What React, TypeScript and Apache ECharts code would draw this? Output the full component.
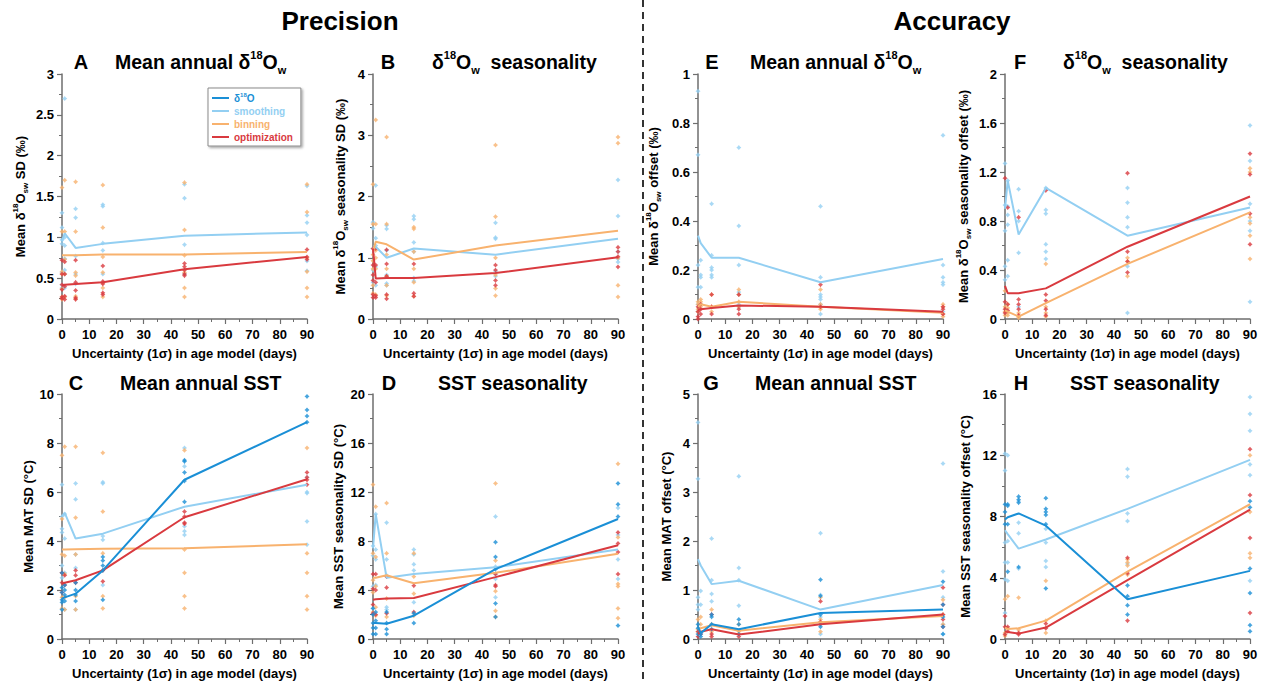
import React, { useEffect, useRef } from "react";
import * as echarts from "echarts";

// ---------- DATA ----------
const X_LEVELS = [0, 1, 5, 15, 45, 90];
const X_TICKS = [0, 10, 20, 30, 40, 50, 60, 70, 80, 90];

// Panel A: Precision, mean annual d18Ow (SD, permil)
const A_SMOOTH_MEAN = [0.95, 1.05, 0.87, 0.92, 1.02, 1.06];
const A_BIN_MEAN = [0.78, 0.78, 0.78, 0.79, 0.79, 0.82];
const A_OPT_MEAN = [0.41, 0.42, 0.43, 0.45, 0.61, 0.76];
const A_SMOOTH_PTS = [[1.3, 1.12, 0.97, 0.92, 0.57, 0.42, 0.38], [2.7, 1.0, 0.9, 0.74, 0.6, 0.55, 0.38], [1.35, 1.24, 0.77, 0.55, 0.43], [1.4, 1.38, 0.93, 0.84, 0.55], [1.65, 1.48, 0.91, 0.55], [1.63, 1.27, 1.18, 1.03, 0.71, 0.59]];
const A_BIN_PTS = [[1.61, 1.07, 0.58, 0.55, 0.37, 0.27, 0.24], [1.7, 1.07, 0.73, 0.55, 0.27], [1.68, 1.07, 0.57, 0.53, 0.28, 0.25], [1.64, 1.12, 0.76, 0.57, 0.44, 0.38, 0.27], [1.67, 1.09, 0.78, 0.57, 0.38, 0.27], [1.65, 1.31, 0.75, 0.58, 0.38, 0.27]];
const A_OPT_PTS = [[0.72, 0.55, 0.42, 0.36, 0.27, 0.25], [0.7, 0.55, 0.4, 0.28, 0.24], [0.72, 0.45, 0.35, 0.26, 0.24], [0.65, 0.46, 0.43, 0.32, 0.3], [0.68, 0.64, 0.6, 0.55, 0.53], [0.85, 0.76, 0.73]];

// Panel B: Precision, d18Ow seasonality
const B_SMOOTH_MEAN = [1.15, 1.18, 1.0, 1.15, 1.05, 1.31];
const B_BIN_MEAN = [1.1, 1.26, 1.22, 0.97, 1.2, 1.44];
const B_OPT_MEAN = [1.15, 0.66, 0.67, 0.67, 0.75, 1.01];
const B_SMOOTH_PTS = [[1.58, 1.48, 1.15, 0.8, 0.6], [2.18, 1.32, 1.2, 0.85, 0.55], [1.53, 1.47, 1.12, 0.72, 0.58, 0.55], [1.68, 1.63, 1.25, 1.1, 0.67, 0.62], [1.57, 1.33, 1.31, 0.78, 0.7], [2.27, 1.68, 1.1, 0.98, 0.93]];
const B_BIN_PTS = [[2.2, 1.55, 1.05, 0.95, 0.82, 0.55, 0.42], [3.25, 1.55, 1.12, 1.0, 0.82, 0.4], [2.97, 1.55, 1.05, 0.82, 0.7, 0.55, 0.38], [1.5, 1.47, 1.1, 0.82, 0.6, 0.37], [2.84, 1.67, 1.0, 0.72, 0.5, 0.38], [2.97, 2.87, 1.0, 0.55, 0.36]];
const B_OPT_PTS = [[1.15, 0.88, 0.72, 0.63, 0.4, 0.35], [1.15, 0.88, 0.6, 0.38, 0.35], [1.13, 0.9, 0.7, 0.4, 0.33], [0.9, 0.42, 0.37], [0.88, 0.8, 0.63, 0.55], [1.17, 1.1, 1.02, 0.85]];

// Panel C: Precision, mean annual SST
const C_D18O_MEAN = [1.65, 1.7, 1.85, 2.8, 6.5, 8.85];
const C_SMOOTH_MEAN = [5.0, 5.15, 4.1, 4.3, 5.4, 6.3];
const C_BIN_MEAN = [3.65, 3.65, 3.66, 3.68, 3.7, 3.87];
const C_OPT_MEAN = [2.25, 2.3, 2.4, 2.8, 4.97, 6.52];
const C_D18O_PTS = [[2.7, 2.1, 1.9, 1.6, 1.5, 1.2], [2.2, 2.0, 1.8, 1.55], [2.3, 2.0, 1.8, 1.55], [3.35, 3.2, 3.0, 2.8, 1.6], [7.3, 7.25, 6.8, 6.45, 5.6], [9.9, 9.35, 9.1, 8.85]];
const C_SMOOTH_PTS = [[6.3, 5.0, 4.5, 4.35, 3.0, 2.5], [5.1, 4.1, 2.7, 1.2], [6.35, 5.7, 3.45, 2.9, 1.2], [6.4, 6.35, 4.2, 4.05, 2.2], [7.8, 7.05, 4.6, 4.4, 4.25], [6.6, 6.0, 5.95, 4.8, 3.85]];
const C_BIN_PTS = [[7.5, 4.9, 3.45, 2.7, 1.7, 1.25], [7.85, 3.4, 2.65, 1.7, 1.2], [7.85, 4.95, 3.45, 1.75, 1.2], [7.6, 5.2, 3.5, 1.75, 1.25], [7.7, 3.65, 2.7, 1.75, 1.25], [7.8, 3.5, 2.7, 1.75, 1.2]];
const C_OPT_PTS = [[2.7, 2.3, 1.9], [2.6, 2.2], [2.8, 2.6, 2.3], [2.8, 2.35], [5.2, 5.0, 4.75, 4.7], [6.8, 6.6, 6.5, 6.3]];

// Panel D: Precision, SST seasonality
const D_D18O_MEAN = [1.3, 1.3, 1.25, 1.9, 5.7, 9.8];
const D_SMOOTH_MEAN = [7.4, 10.2, 5.0, 5.3, 5.85, 7.3];
const D_BIN_MEAN = [5.0, 5.0, 5.2, 4.55, 5.4, 6.95];
const D_OPT_MEAN = [3.2, 3.25, 3.3, 3.35, 5.05, 7.65];
const D_D18O_PTS = [[2.5, 2.0, 1.3, 0.9, 0.4], [2.2, 1.5, 0.9, 0.4], [2.2, 1.3, 0.8, 0.4], [2.1, 1.3], [7.9, 6.7, 5.7, 2.9, 1.8], [12.7, 11.0, 10.0, 1.1]];
const D_SMOOTH_PTS = [[7.6, 6.8, 4.3, 2.5], [10.2, 7.3, 6.5, 4.4], [9.5, 6.5, 5.2, 2.6, 2.4], [7.3, 6.9, 6.1, 5.6, 3.0], [10.0, 5.9, 5.3, 4.9, 3.4], [10.7, 8.5, 6.5, 4.9]];
const D_BIN_PTS = [[12.6, 7.0, 4.8, 3.8, 2.2], [10.8, 6.7, 4.3, 2.6, 1.9], [11.1, 7.0, 5.1, 3.3, 1.8], [7.0, 5.1, 3.7, 1.9], [12.7, 6.4, 3.9, 2.3, 1.8], [14.3, 8.3, 4.5, 4.3, 2.5, 1.7]];
const D_OPT_PTS = [[5.3, 4.1, 2.8, 2.1], [5.3, 4.0, 2.0], [5.1, 4.2, 2.1], [4.35, 2.2], [5.3, 4.4, 4.3], [8.7, 7.8, 7.1, 5.3]];

// Panel E: Accuracy, mean annual d18Ow (offset)
const E_SMOOTH_MEAN = [0.34, 0.31, 0.25, 0.25, 0.15, 0.245];
const E_BIN_MEAN = [0.05, 0.06, 0.05, 0.07, 0.05, 0.025];
const E_OPT_MEAN = [0.035, 0.04, 0.045, 0.055, 0.05, 0.03];
const E_SMOOTH_PTS = [[0.93, 0.67, 0.22, 0.13, 0.06, 0.03], [0.24, 0.18, 0.17, 0.13, 0.06], [0.47, 0.26, 0.21, 0.2, 0.18, 0.17], [0.7, 0.38, 0.22, 0.11, 0.1, 0.06, 0.05], [0.46, 0.17, 0.1, 0.09, 0.08, 0.06, 0.02], [0.75, 0.22, 0.17, 0.15, 0.14, 0.03]];
const E_BIN_PTS = [[0.07, 0.06, 0.04, 0.03], [0.08, 0.07, 0.05], [0.1, 0.05, 0.03], [0.12, 0.1, 0.07, 0.05], [0.12, 0.06, 0.04], [0.06, 0.05, 0.02, 0.01]];
const E_OPT_PTS = [[0.05, 0.03, 0.01, 0.0], [0.06, 0.04, 0.02], [0.1, 0.05, 0.02], [0.1, 0.04, 0.02], [0.14, 0.05], [0.05, 0.04, 0.02]];

// Panel F: Accuracy, d18Ow seasonality (offset)
const F_SMOOTH_MEAN = [0.9, 1.13, 0.69, 1.07, 0.68, 0.91];
const F_BIN_MEAN = [0.07, 0.06, 0.02, 0.13, 0.45, 0.87];
const F_OPT_MEAN = [0.27, 0.21, 0.21, 0.25, 0.59, 1.0];
const F_SMOOTH_PTS = [[1.27, 0.93, 0.72, 0.43, 0.32], [1.13, 0.92, 0.85, 0.77, 0.48, 0.35], [1.06, 0.88, 0.8, 0.54, 0.1], [1.07, 0.89, 0.86, 0.61, 0.55, 0.49], [1.07, 0.95, 0.83, 0.75, 0.43, 0.05], [1.58, 1.29, 0.94, 0.8, 0.72, 0.14]];
const F_BIN_PTS = [[0.23, 0.1, 0.06, 0.03], [0.12, 0.09, 0.05, 0.03], [0.05, 0.02, 0.01], [0.45, 0.1, 0.05, 0.02], [0.5, 0.47, 0.35], [1.23, 1.2, 0.83, 0.78, 0.68, 0.49]];
const F_OPT_PTS = [[1.15, 0.14, 0.08, 0.05], [0.91, 0.12, 0.07], [0.83, 0.16, 0.12, 0.08, 0.03], [1.05, 0.2, 0.15, 0.08, 0.03], [1.19, 0.55, 0.47, 0.38], [1.35, 1.18, 0.86, 0.61]];

// Panel G: Accuracy, mean annual SST (offset)
const G_D18O_MEAN = [0.25, 0.12, 0.3, 0.2, 0.53, 0.6];
const G_SMOOTH_MEAN = [1.63, 1.5, 1.12, 1.19, 0.6, 1.1];
const G_BIN_MEAN = [0.2, 0.22, 0.28, 0.17, 0.34, 0.47];
const G_OPT_MEAN = [0.1, 0.15, 0.2, 0.09, 0.3, 0.5];
const G_D18O_PTS = [[0.3, 0.22, 0.1], [0.1, 0.05], [0.5, 0.45, 0.3, 0.2], [0.4, 0.3, 0.1], [1.21, 0.88, 0.5, 0.3, 0.25], [1.17, 0.7, 0.45, 0.25, 0.1]];
const G_SMOOTH_PTS = [[4.42, 3.27, 0.85, 0.7, 0.6], [0.98, 0.7], [2.05, 1.2, 0.92, 0.77], [3.32, 1.45, 1.2, 0.68], [2.16, 0.9, 0.45, 0.1], [3.58, 1.38, 0.85, 0.3, 0.1]];
const G_BIN_PTS = [[0.4, 0.2, 0.15], [0.45, 0.3], [0.6, 0.3, 0.15], [0.3, 0.15], [0.85, 0.4, 0.15], [0.8, 0.5, 0.3]];
const G_OPT_PTS = [[0.15, 0.05], [0.1], [0.5, 0.1, 0.05], [0.05], [0.77, 0.35], [1.05, 0.7, 0.5, 0.4, 0.25]];

// Panel H: Accuracy, SST seasonality (offset)
const H_D18O_MEAN = [7.8, 7.95, 8.2, 7.4, 2.6, 4.45];
const H_SMOOTH_MEAN = [7.1, 6.85, 5.9, 6.5, 8.5, 11.7];
const H_BIN_MEAN = [0.75, 0.65, 0.7, 1.2, 4.4, 8.8];
const H_OPT_MEAN = [0.5, 0.45, 0.35, 0.75, 3.85, 8.45];
const H_D18O_PTS = [[8.8, 8.3, 7.5], [8.8, 8.7, 7.5, 4.4], [9.3, 9.1, 8.9, 4.7], [9.2, 8.5, 8.3, 8.1, 7.5, 3.3], [3.5, 2.8, 2.2, 1.6], [9.0, 8.6, 4.6, 3.0, 0.9, 0.5]];
const H_SMOOTH_PTS = [[12.1, 11.0, 6.3, 5.0, 3.9, 1.7], [12.0, 6.4, 5.0, 3.8], [9.0, 7.6, 6.9, 4.6], [7.2, 6.3, 5.1, 4.7], [11.1, 10.6, 8.2, 7.7, 4.9], [15.8, 14.7, 13.6, 11.4, 10.7, 3.8]];
const H_BIN_PTS = [[2.6, 0.4, 0.2], [2.8, 0.7], [2.7, 0.6], [3.8, 1.2, 0.4], [5.2, 5.0, 4.8, 4.2], [12.0, 8.3, 5.6, 5.3]];
const H_OPT_PTS = [[1.5, 0.8, 0.3], [0.8, 0.5], [0.4, 0.3], [1.0, 0.7], [5.3, 4.3, 1.2], [12.4, 9.4, 6.6, 1.7]];

// ---------- STYLE ----------
const FONT = "'Liberation Sans', Arial, Helvetica, sans-serif";
const COLORS: Record<string, string> = {
  "δ18O": "#1a8fd6",
  smoothing: "#93cff2",
  binning: "#f8b26e",
  optimization: "#d93a3f",
};
const STAR = "path://M0,-10 L4.5,-4.5 L10,0 L4.5,4.5 L0,10 L-4.5,4.5 L-10,0 L-4.5,-4.5 Z";
const AXIS_COLOR = "#6e6e6e";

type Method = "δ18O" | "smoothing" | "binning" | "optimization";
type SeriesDef = [Method, number[], number[][]];

const PANELS: {
  letter: string; left: number; top: number; yMax: number; yInt: number; nameGap: number;
  yName: string; title: string; titleX: number; letterX: number; titleY: number; series: SeriesDef[];
}[] = [
  { letter: "A", left: 62, top: 74, yMax: 3, yInt: 0.5, nameGap: 33,
    yName: "{n|Mean δ}{sup|18}{n|O}{sub|sw}{n| SD (‰)}", title: "{t|Mean annual δ}{tsup|18}{t|O}{tsub|w}",
    titleX: 115, letterX: 81, titleY: 62,
    series: [["smoothing", A_SMOOTH_MEAN, A_SMOOTH_PTS], ["binning", A_BIN_MEAN, A_BIN_PTS], ["optimization", A_OPT_MEAN, A_OPT_PTS]] },
  { letter: "B", left: 373, top: 74, yMax: 4, yInt: 1, nameGap: 24,
    yName: "{n|Mean δ}{sup|18}{n|O}{sub|sw}{n| seasonality SD (‰)}", title: "{t|δ}{tsup|18}{t|O}{tsub|w}{t|  seasonality}",
    titleX: 432, letterX: 388, titleY: 62,
    series: [["smoothing", B_SMOOTH_MEAN, B_SMOOTH_PTS], ["binning", B_BIN_MEAN, B_BIN_PTS], ["optimization", B_OPT_MEAN, B_OPT_PTS]] },
  { letter: "C", left: 62, top: 394, yMax: 10, yInt: 2, nameGap: 25,
    yName: "{n|Mean MAT SD (°C)}", title: "{t|Mean annual SST}",
    titleX: 120, letterX: 76, titleY: 383,
    series: [["smoothing", C_SMOOTH_MEAN, C_SMOOTH_PTS], ["binning", C_BIN_MEAN, C_BIN_PTS], ["optimization", C_OPT_MEAN, C_OPT_PTS], ["δ18O", C_D18O_MEAN, C_D18O_PTS]] },
  { letter: "D", left: 373, top: 394, yMax: 20, yInt: 4, nameGap: 26,
    yName: "{n|Mean SST seasonality SD (°C)}", title: "{t|SST seasonality}",
    titleX: 438, letterX: 389, titleY: 383,
    series: [["smoothing", D_SMOOTH_MEAN, D_SMOOTH_PTS], ["binning", D_BIN_MEAN, D_BIN_PTS], ["optimization", D_OPT_MEAN, D_OPT_PTS], ["δ18O", D_D18O_MEAN, D_D18O_PTS]] },
  { letter: "E", left: 698, top: 74, yMax: 1, yInt: 0.2, nameGap: 36,
    yName: "{n|Mean δ}{sup|18}{n|O}{sub|sw}{n| offset (‰)}", title: "{t|Mean annual δ}{tsup|18}{t|O}{tsub|w}",
    titleX: 750, letterX: 712, titleY: 62,
    series: [["smoothing", E_SMOOTH_MEAN, E_SMOOTH_PTS], ["binning", E_BIN_MEAN, E_BIN_PTS], ["optimization", E_OPT_MEAN, E_OPT_PTS]] },
  { letter: "F", left: 1005, top: 74, yMax: 2, yInt: 0.4, nameGap: 33,
    yName: "{n|Mean δ}{sup|18}{n|O}{sub|sw}{n| seasonality offset (‰)}", title: "{t|δ}{tsup|18}{t|O}{tsub|w}{t|  seasonality}",
    titleX: 1063, letterX: 1020, titleY: 62,
    series: [["smoothing", F_SMOOTH_MEAN, F_SMOOTH_PTS], ["binning", F_BIN_MEAN, F_BIN_PTS], ["optimization", F_OPT_MEAN, F_OPT_PTS]] },
  { letter: "G", left: 698, top: 394, yMax: 5, yInt: 1, nameGap: 23,
    yName: "{n|Mean MAT offset (°C)}", title: "{t|Mean annual SST}",
    titleX: 755, letterX: 711, titleY: 383,
    series: [["smoothing", G_SMOOTH_MEAN, G_SMOOTH_PTS], ["binning", G_BIN_MEAN, G_BIN_PTS], ["optimization", G_OPT_MEAN, G_OPT_PTS], ["δ18O", G_D18O_MEAN, G_D18O_PTS]] },
  { letter: "H", left: 1005, top: 394, yMax: 16, yInt: 4, nameGap: 31,
    yName: "{n|Mean SST seasonality offset (°C)}", title: "{t|SST seasonality}",
    titleX: 1070, letterX: 1021, titleY: 383,
    series: [["smoothing", H_SMOOTH_MEAN, H_SMOOTH_PTS], ["binning", H_BIN_MEAN, H_BIN_PTS], ["optimization", H_OPT_MEAN, H_OPT_PTS], ["δ18O", H_D18O_MEAN, H_D18O_PTS]] },
];

const PLOT_W = 245;
const PLOT_H = 245;

function buildOption() {
  const grid: any[] = [];
  const xAxis: any[] = [];
  const yAxis: any[] = [];
  const series: any[] = [];
  const graphic: any[] = [];

  const axisLabel = { color: "#000", fontFamily: FONT, fontWeight: "bold", fontSize: 13 };
  const yNameRich = {
    n: { fontSize: 13, fontWeight: "bold", fontFamily: FONT, color: "#000", lineHeight: 18, verticalAlign: "middle" },
    sup: { fontSize: 8, fontWeight: "bold", fontFamily: FONT, color: "#000", lineHeight: 18, verticalAlign: "top" },
    sub: { fontSize: 8, fontWeight: "bold", fontFamily: FONT, color: "#000", lineHeight: 18, verticalAlign: "bottom" },
  };
  const titleRich = {
    t: { fontSize: 19.5, fontWeight: "bold", fontFamily: FONT, fill: "#000", lineHeight: 26, verticalAlign: "middle" },
    tsup: { fontSize: 11, fontWeight: "bold", fontFamily: FONT, fill: "#000", lineHeight: 26, verticalAlign: "top" },
    tsub: { fontSize: 11, fontWeight: "bold", fontFamily: FONT, fill: "#000", lineHeight: 26, verticalAlign: "bottom" },
  };

  PANELS.forEach((p, i) => {
    grid.push({ left: p.left, top: p.top, width: PLOT_W, height: PLOT_H, containLabel: false });
    xAxis.push({
      type: "value", gridIndex: i, min: X_TICKS[0], max: X_TICKS[X_TICKS.length - 1], interval: 10,
      axisLine: { show: true, onZero: false, lineStyle: { color: AXIS_COLOR, width: 1.5 } },
      axisTick: { show: true, inside: false, length: 5, lineStyle: { color: AXIS_COLOR, width: 1.2 } },
      minorTick: { show: true, splitNumber: 2, length: 3, lineStyle: { color: AXIS_COLOR, width: 1 } },
      splitLine: { show: false },
      axisLabel: { ...axisLabel, margin: 9 },
      name: "Uncertainty (1σ) in age model (days)", nameLocation: "middle", nameGap: 28,
      nameTextStyle: { color: "#000", fontFamily: FONT, fontWeight: "bold", fontSize: 13 },
    });
    yAxis.push({
      type: "value", gridIndex: i, min: 0, max: p.yMax, interval: p.yInt,
      axisLine: { show: true, onZero: false, lineStyle: { color: AXIS_COLOR, width: 1.5 } },
      axisTick: { show: true, inside: false, length: 5, lineStyle: { color: AXIS_COLOR, width: 1.2 } },
      minorTick: { show: true, splitNumber: 2, length: 3, lineStyle: { color: AXIS_COLOR, width: 1 } },
      splitLine: { show: false },
      axisLabel: { ...axisLabel, margin: 8 },
      name: p.yName, nameLocation: "middle", nameRotate: 90, nameGap: p.nameGap,
      nameTextStyle: { rich: yNameRich },
    });
    p.series.forEach(([m, , pts]) => {
      series.push({
        type: "scatter", name: m + " runs", xAxisIndex: i, yAxisIndex: i,
        data: pts.flatMap((arr, k) => arr.map((v) => [X_LEVELS[k], v])),
        symbol: STAR, symbolSize: 5, itemStyle: { color: COLORS[m] }, z: 2, silent: true,
      });
    });
    p.series.forEach(([m, means]) => {
      series.push({
        type: "line", name: m, xAxisIndex: i, yAxisIndex: i,
        data: means.map((v, k) => [X_LEVELS[k], v]),
        symbol: "none", showSymbol: false,
        lineStyle: { color: COLORS[m], width: 2 }, itemStyle: { color: COLORS[m] }, z: 3, silent: true,
      });
    });
    graphic.push({
      type: "text", x: p.letterX, y: p.titleY,
      style: { text: p.letter, font: `bold 20px ${FONT}`, fill: "#000", align: "center", verticalAlign: "middle" },
    });
    graphic.push({
      type: "text", x: p.titleX, y: p.titleY,
      style: { text: p.title, rich: titleRich, align: "left", verticalAlign: "middle" },
    });
  });

  graphic.push({
    type: "text", x: 340, y: 21,
    style: { text: "Precision", font: `bold 26px ${FONT}`, fill: "#000", align: "center", verticalAlign: "middle" },
  });
  graphic.push({
    type: "text", x: 952, y: 21,
    style: { text: "Accuracy", font: `bold 26px ${FONT}`, fill: "#000", align: "center", verticalAlign: "middle" },
  });
  graphic.push({
    type: "line", shape: { x1: 643, y1: 0, x2: 643, y2: 684 },
    style: { stroke: "#333", lineWidth: 2, lineDash: [7, 5] },
  });

  const legendNames: Method[] = ["δ18O", "smoothing", "binning", "optimization"];
  const legend = {
    left: 208, top: 88, orient: "vertical", icon: "rect", itemWidth: 17, itemHeight: 2, itemGap: 3,
    padding: [4, 8, 4, 4], borderColor: "#8a8a8a", borderWidth: 1, backgroundColor: "#fff",
    shadowColor: "rgba(0,0,0,0.35)", shadowBlur: 2, shadowOffsetX: 1.5, shadowOffsetY: 1.5,
    selectedMode: false,
    data: legendNames.map((n) => ({ name: n, itemStyle: { color: COLORS[n] }, textStyle: { color: COLORS[n] } })),
    formatter: (n: string) => (n === "δ18O" ? "{d|δ}{ds|18}{d|O}" : n),
    textStyle: {
      fontFamily: FONT, fontWeight: "bold", fontSize: 10,
      rich: {
        d: { color: COLORS["δ18O"], fontFamily: FONT, fontWeight: "bold", fontSize: 10, lineHeight: 12, verticalAlign: "middle" },
        ds: { color: COLORS["δ18O"], fontFamily: FONT, fontWeight: "bold", fontSize: 6, lineHeight: 12, verticalAlign: "top" },
      },
    },
  };

  return {
    animation: false,
    backgroundColor: "#fff",
    grid, xAxis, yAxis, series, graphic, legend,
  };
}

export default function App() {
  const ref = useRef<HTMLDivElement>(null);
  useEffect(() => {
    if (!ref.current) return;
    const chart = echarts.init(ref.current, null, { renderer: "svg" });
    chart.setOption(buildOption() as any);
    return () => chart.dispose();
  }, []);
  return (
    <div
      ref={ref}
      style={{ position: "absolute", left: 0, top: 0, width: 1265, height: 684, background: "#fff" }}
    />
  );
}
